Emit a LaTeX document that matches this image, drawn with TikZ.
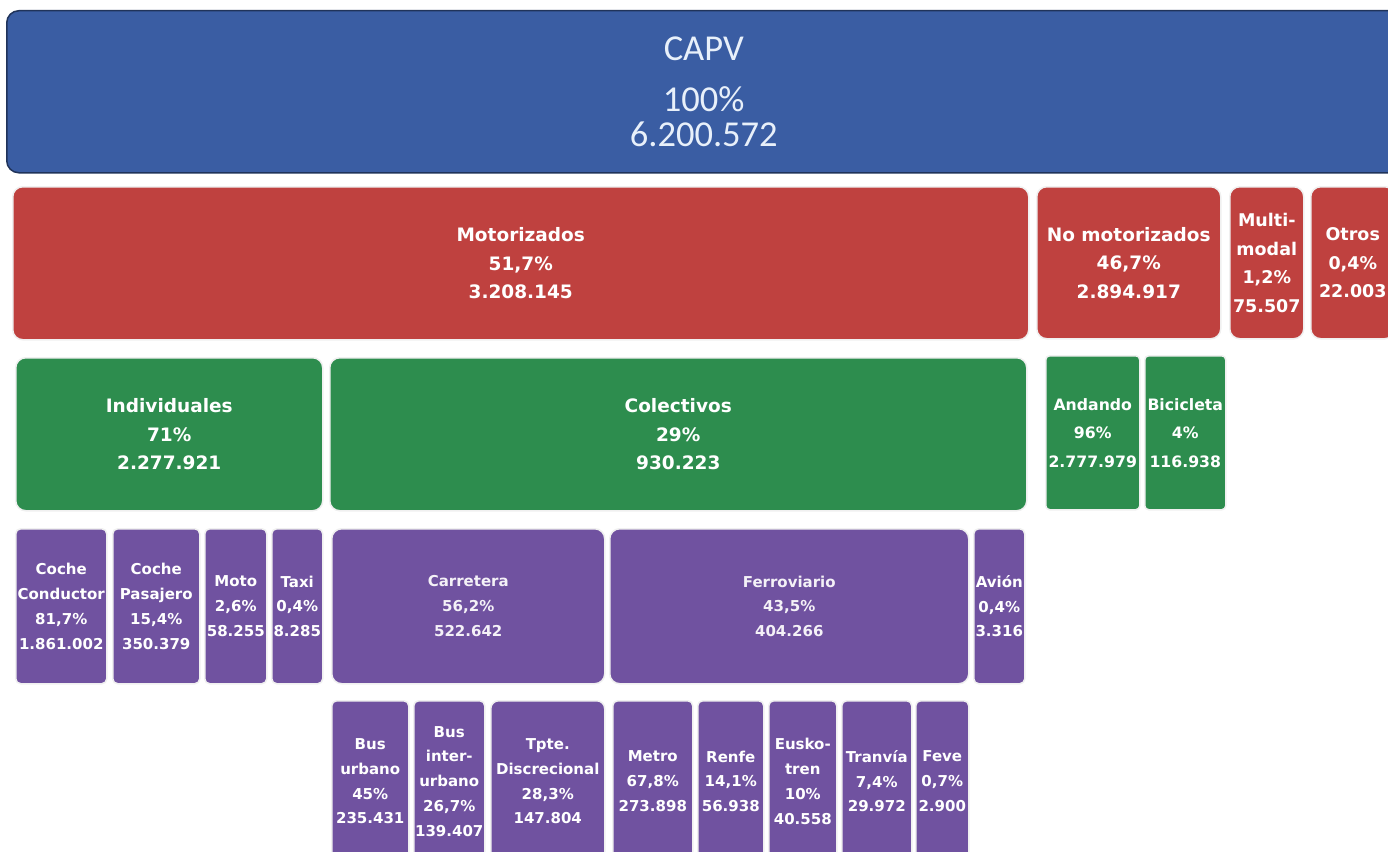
\documentclass[tikz,border=0pt]{standalone}
\usepackage{fontspec}
\setmainfont{DejaVu Sans}
\newfontfamily\capvfont{Carlito}
\usetikzlibrary{positioning}

\definecolor{capvblue}{HTML}{3A5DA3}
\definecolor{motred}{HTML}{BF413F}
\definecolor{modgreen}{HTML}{2D8D4E}
\definecolor{subpurple}{HTML}{7052A0}
\definecolor{capvtext}{HTML}{E8F0FA}

\begin{document}
\begin{tikzpicture}[x=1pt,y=-1pt]
    \tikzstyle{box}=[anchor=north west, inner sep=0pt, align=center, text=white]
    \tikzstyle{top}=[box, fill=capvblue, draw=black!45!capvblue, line width=1.5pt, rounded corners=12pt, text=capvtext,
      font=\capvfont\fontsize{36.5}{35}\selectfont]
    \tikzstyle{first}=[box, fill=motred, draw=black!6, line width=1.5pt, rounded corners=10pt,
      font=\bfseries\fontsize{18.5}{28.5}\selectfont]
    \tikzstyle{second}=[box, fill=modgreen, draw=black!6, line width=1.5pt, rounded corners=10pt,
      font=\bfseries\fontsize{18.5}{28.5}\selectfont]
    \tikzstyle{third}=[box, fill=subpurple, draw=black!6, line width=1.5pt, rounded corners=5pt,
      font=\bfseries\fontsize{15}{24.8}\selectfont]

    \clip (0,0) rectangle (1388,851);
    \fill[white] (0,0) rectangle (1388,851);

    % CAPV
    \node[top, minimum width=1394pt, minimum height=162pt] (capv) at (6,10)
      {CAPV\\[16pt]100\%\\6.200.572};

    % motorizados / no motorizados
    \node[first, minimum width=1016pt, minimum height=153pt] (motorizados) at (12,186)
      {Motorizados\\51,7\%\\3.208.145};
    \node[first, minimum width=184pt, minimum height=152pt] (nomotorizados) at (1036,186)
      {No motorizados\\46,7\%\\2.894.917};
    \node[first, minimum width=74pt, minimum height=152pt, font=\bfseries\fontsize{17.5}{28.5}\selectfont] (multimodal) at (1229,186)
      {Multi-\\modal\\1,2\%\\75.507};
    \node[first, minimum width=84pt, minimum height=152pt, font=\bfseries\fontsize{17.5}{28.5}\selectfont] (otros) at (1310,186)
      {Otros\\0,4\%\\22.003};

    % individuales / colectivos
    \node[second, minimum width=307pt, minimum height=153pt] (individuales) at (15,357)
      {Individuales\\71\%\\2.277.921};
    \node[second, minimum width=697pt, minimum height=153pt] (colectivos) at (329,357)
      {Colectivos\\29\%\\930.223};
    \node[second, rounded corners=4pt, minimum width=94pt, minimum height=154pt,
      font=\bfseries\fontsize{15.7}{28.5}\selectfont] (andando) at (1045,355)
      {Andando\\96\%\\2.777.979};
    \node[second, rounded corners=4pt, minimum width=81pt, minimum height=154pt,
      font=\bfseries\fontsize{15.7}{28.5}\selectfont] (bicicleta) at (1144,355)
      {Bicicleta\\4\%\\116.938};

    % individuales
    \node[third, minimum width=91pt, minimum height=155pt] (cocheconductor) at (15,528)
      {Coche\\Conductor\\81,7\%\\1.861.002};
    \node[third, minimum width=87pt, minimum height=155pt] (cochepasajero) at (112,528)
      {Coche\\Pasajero\\15,4\%\\350.379};
    \node[third, minimum width=62pt, minimum height=155pt] (moto) at (204,528)
      {Moto\\2,6\%\\58.255};
    \node[third, minimum width=51pt, minimum height=155pt] (taxi) at (271,528)
      {Taxi\\0,4\%\\8.285};

    % colectivos
    \node[third, rounded corners=10pt, minimum width=273pt, minimum height=155pt, text=white!92!subpurple] (carretera) at (331,528)
      {Carretera\\56,2\%\\522.642};
    \node[third, rounded corners=10pt, minimum width=359pt, minimum height=155pt, text=white!92!subpurple] (ferroviario) at (609,528)
      {Ferroviario\\43,5\%\\404.266};
    \node[third, minimum width=51pt, minimum height=155pt] (avion) at (973,528)
      {Avión\\0,4\%\\3.316};

    % carretera
    \node[third, minimum width=77pt, minimum height=161pt] (busurbano) at (331,700)
      {Bus\\urbano\\45\%\\235.431};
    \node[third, minimum width=71pt, minimum height=161pt] (businterurbano) at (413,700)
      {Bus\\inter-\\urbano\\26,7\%\\139.407};
    \node[third, rounded corners=8pt, minimum width=114pt, minimum height=161pt] (discrecional) at (490,700)
      {Tpte.\\Discrecional\\28,3\%\\147.804};

    % ferroviario
    \node[third, minimum width=80pt, minimum height=161pt] (metro) at (612,700)
      {Metro\\67,8\%\\273.898};
    \node[third, minimum width=66pt, minimum height=161pt] (renfe) at (697,700)
      {Renfe\\14,1\%\\56.938};
    \node[third, minimum width=68pt, minimum height=161pt] (euskotren) at (768,700)
      {Eusko-\\tren\\10\%\\40.558};
    \node[third, minimum width=70pt, minimum height=161pt] (tranvia) at (841,700)
      {Tranvía\\7,4\%\\29.972};
    \node[third, minimum width=53pt, minimum height=161pt] (feve) at (915,700)
      {Feve\\0,7\%\\2.900};

\end{tikzpicture}
\end{document}
